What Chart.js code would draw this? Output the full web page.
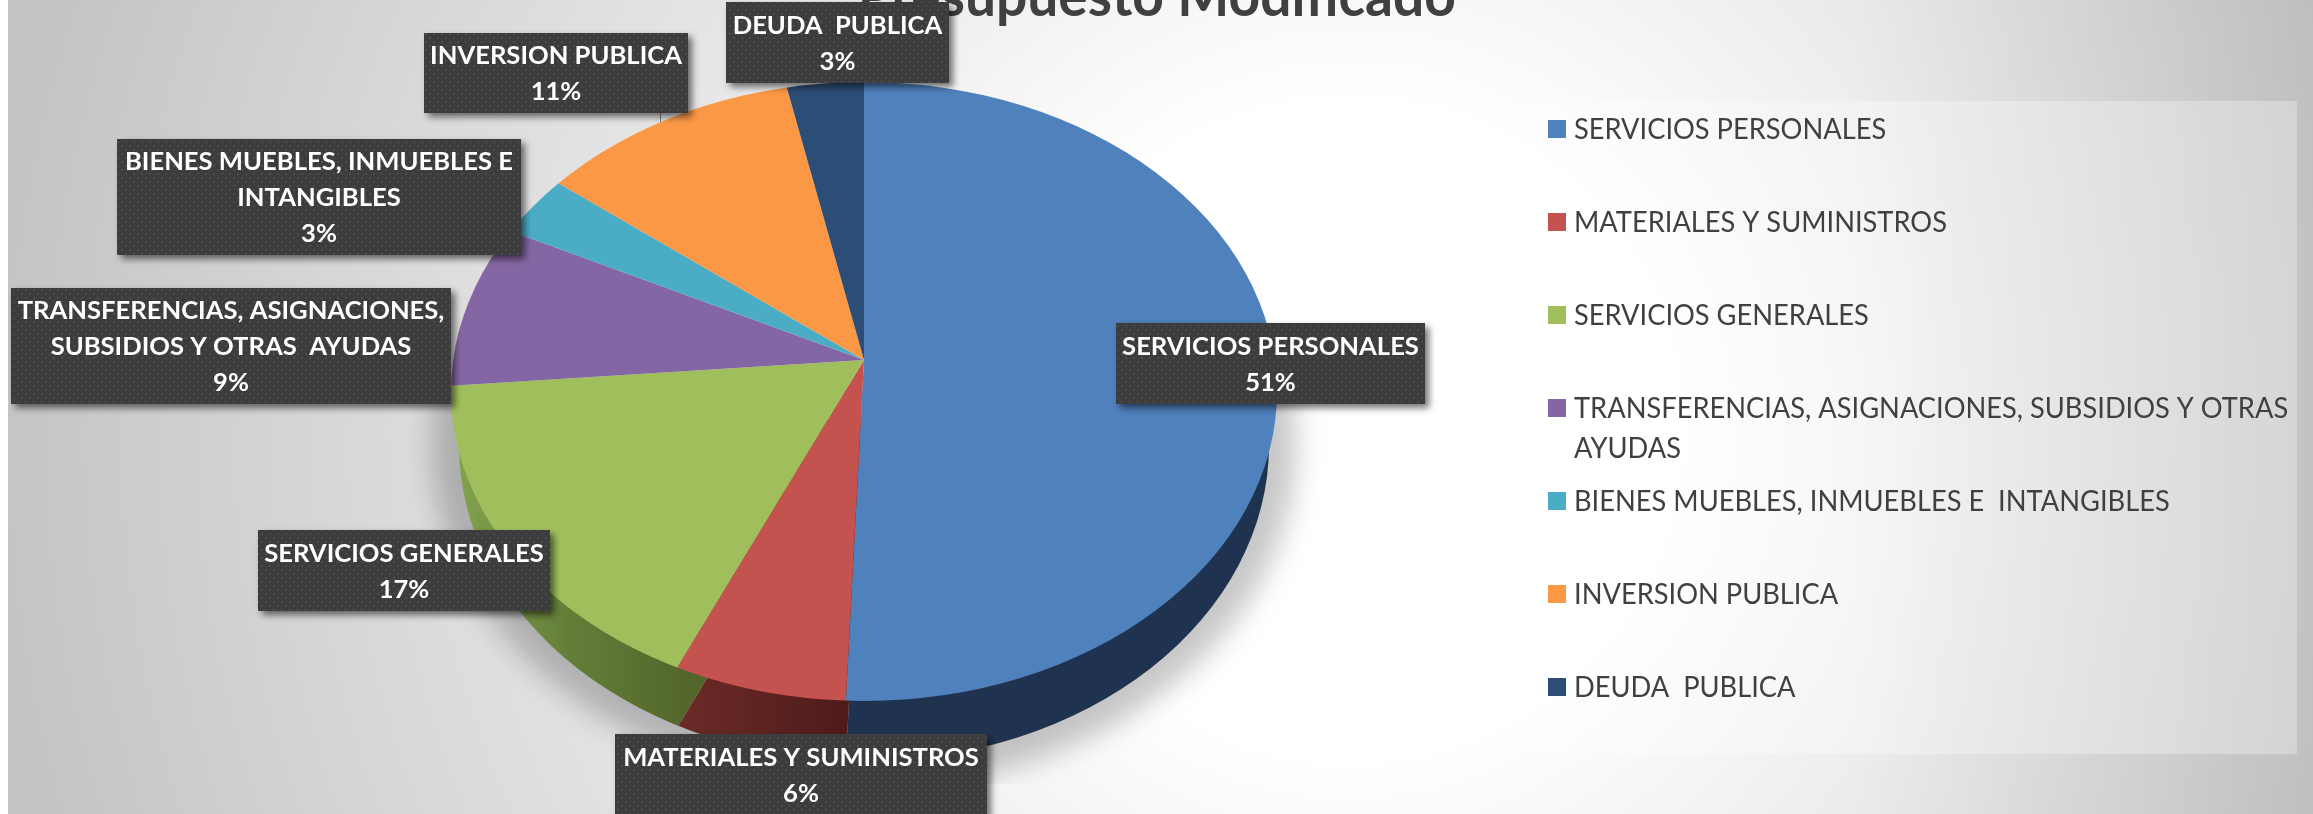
<!DOCTYPE html>
<html>
<head>
<meta charset="utf-8">
<title>Presupuesto Modificado</title>
<script src="https://cdn.jsdelivr.net/npm/chart.js@4"></script>
<style>
  html, body { margin: 0; padding: 0; background: #fff; overflow: hidden; }
  canvas { display: block; }
</style>
</head>
<body>
<canvas id="chart" width="2313" height="814"></canvas>
<script>
const chartTitle = 'Presupuesto Modificado';
const categories = [
  'SERVICIOS PERSONALES',
  'MATERIALES Y SUMINISTROS',
  'SERVICIOS GENERALES',
  'TRANSFERENCIAS, ASIGNACIONES, SUBSIDIOS Y OTRAS  AYUDAS',
  'BIENES MUEBLES, INMUEBLES E  INTANGIBLES',
  'INVERSION PUBLICA',
  'DEUDA  PUBLICA'
];
// percent of the total
const values = [50.7, 6.7, 16.4, 9.1, 3.4, 10.7, 3.0];
// percent as printed on the labels
const percentLabels = ['51%', '6%', '17%', '9%', '3%', '11%', '3%'];
const colors = ['#4F81BD', '#C4524F', '#A0BF5C', '#8566A4', '#4BACC6', '#FB9845', '#2C4D75'];
const sideColors = ['#1F3350', '#5C2321', '#647C3A', '#4A3A60', '#2B6473', '#8F5726', '#192C44'];

// how the label text wraps inside its box
const labelLines = [
  ['SERVICIOS PERSONALES'],
  ['MATERIALES Y SUMINISTROS'],
  ['SERVICIOS GENERALES'],
  ['TRANSFERENCIAS, ASIGNACIONES,', 'SUBSIDIOS Y OTRAS  AYUDAS'],
  ['BIENES MUEBLES, INMUEBLES E', 'INTANGIBLES'],
  ['INVERSION PUBLICA'],
  ['DEUDA  PUBLICA']
];
// manual label placement [left, top, right, bottom]
const labelBoxes = [
  [1116, 323, 1425, 404],
  [615, 734, 987, 815],
  [258, 530, 550, 611],
  [11, 288, 451, 404],
  [117, 139, 521, 255],
  [424, 33, 688, 113],
  [726, 2, 949, 83]
];
const legendLines = [
  ['SERVICIOS PERSONALES'],
  ['MATERIALES Y SUMINISTROS'],
  ['SERVICIOS GENERALES'],
  ['TRANSFERENCIAS, ASIGNACIONES, SUBSIDIOS Y OTRAS', 'AYUDAS'],
  ['BIENES MUEBLES, INMUEBLES E  INTANGIBLES'],
  ['INVERSION PUBLICA'],
  ['DEUDA  PUBLICA']
];

// PIE is where the slices meet. The outline is a true ellipse whose centre sits
// lower than that, which is how the perspective of the 3D original looks.
const PIE = { x: 864, y: 360, radius: 300 };
const RAY = { rx: 413, ryTop: 278, ryBottom: 341, overshoot: 1.12 };
const DISC = { cy: 391.5, rx: 413, ry: 309.5 };
const SIDE = { cy: 445, rx: 405, ry: 316, drop: 60 };

// text squeezed or stretched sideways, the original font is narrower than Lato
function wideText(ctx, text, x, y, scaleX) {
  ctx.save();
  ctx.translate(x, y);
  ctx.scale(scaleX, 1);
  ctx.fillText(text, 0, 0);
  ctx.restore();
}

// Page background: soft radial grey with a white strip at the left
const backdrop = {
  id: 'backdrop',
  beforeDraw(chart) {
    const { ctx, width, height } = chart;
    const g = ctx.createRadialGradient(1350, 430, 0, 1350, 430, 1360);
    g.addColorStop(0, '#ffffff');
    g.addColorStop(0.24, '#ffffff');
    g.addColorStop(0.47, '#ebebeb');
    g.addColorStop(0.74, '#d8d8d8');
    g.addColorStop(1, '#c4c4c4');
    ctx.save();
    ctx.fillStyle = '#ffffff';
    ctx.fillRect(0, 0, width, height);
    ctx.fillStyle = g;
    ctx.fillRect(8, 0, width - 8, height);
    const r = ctx.createLinearGradient(1850, 0, 2313, 0);
    r.addColorStop(0, 'rgba(0,0,0,0)');
    r.addColorStop(1, 'rgba(0,0,0,0.11)');
    ctx.fillStyle = r;
    ctx.fillRect(1850, 0, width - 1850, height);
    // title sits behind the labels and runs off the top edge
    ctx.fillStyle = '#404040';
    ctx.font = 'bold 58px Lato';
    ctx.textAlign = 'right';
    ctx.textBaseline = 'alphabetic';
    wideText(ctx, chartTitle, 1456, 16, 0.95);
    ctx.restore();
  }
};

// Chart.js pies are round, so squash the arcs and clip them to the tilted outline.
const tiltedPie = {
  id: 'tiltedPie',
  beforeDatasetDraw(chart) {
    const { ctx, width, height } = chart;
    const arcs = chart.getDatasetMeta(0).data;
    const cx = arcs[0].x, cy = arcs[0].y, R = arcs[0].outerRadius;
    const k = RAY.overshoot;

    const half = (top, outline, offsetY, paint) => {
      ctx.save();
      ctx.beginPath();
      if (top) ctx.rect(0, 0, width, cy + offsetY);
      else ctx.rect(0, cy + offsetY, width, height);
      ctx.clip();
      ctx.beginPath();
      ctx.ellipse(cx, outline.cy, outline.rx, outline.ry, 0, 0, Math.PI * 2);
      ctx.clip();
      ctx.translate(cx, cy + offsetY);
      ctx.scale(k * RAY.rx / R, k * (top ? RAY.ryTop : RAY.ryBottom) / R);
      ctx.translate(-cx, -cy);
      paint();
      ctx.restore();
    };

    // gradients are read through the squashing transform, so undo it on x
    const sideGradient = stops => {
      const toArc = x => cx + (x - cx) * R / (k * RAY.rx);
      const g = ctx.createLinearGradient(toArc(stops[0][0]), 0, toArc(stops[stops.length - 1][0]), 0);
      const span = stops[stops.length - 1][0] - stops[0][0];
      stops.forEach(s => g.addColorStop((s[0] - stops[0][0]) / span, s[1]));
      return g;
    };
    const sideFill = sideColors.slice();
    sideFill[1] = sideGradient([[684, '#6B2A27'], [847, '#4E1B1A']]);
    sideFill[2] = sideGradient([[465, '#80A04C'], [570, '#647E38'], [684, '#53672C']]);

    // soft shadow under the pie
    ctx.save();
    ctx.beginPath();
    ctx.rect(0, 386, width, 398);
    ctx.clip();
    ctx.filter = 'blur(14px)';
    ctx.fillStyle = 'rgba(0,0,0,0.22)';
    ctx.beginPath();
    ctx.ellipse(cx, SIDE.cy, SIDE.rx + 27, SIDE.ry + 26, 0, 0, Math.PI * 2);
    ctx.fill();
    ctx.restore();

    // side wall
    half(false, SIDE, SIDE.drop, () => {
      arcs.forEach((arc, i) => {
        const opts = arc.options;
        arc.options = { ...opts, backgroundColor: sideFill[i] };
        arc.draw(ctx);
        arc.options = opts;
      });
    });
    // top face
    half(true, DISC, 0, () => arcs.forEach(arc => arc.draw(ctx)));
    half(false, DISC, 0, () => arcs.forEach(arc => arc.draw(ctx)));
    return false;
  }
};

// Dark dotted boxes with name and percent
const dataLabels = {
  id: 'dataLabels',
  afterDatasetsDraw(chart) {
    const { ctx } = chart;
    const tile = document.createElement('canvas');
    tile.width = 8;
    tile.height = 8;
    const t = tile.getContext('2d');
    t.fillStyle = '#3C3C3E';
    t.fillRect(0, 0, 8, 8);
    t.fillStyle = '#4C4C4C';
    t.fillRect(1, 1, 2, 2);
    t.fillRect(5, 5, 2, 2);
    const pattern = ctx.createPattern(tile, 'repeat');

    // leader line of the INVERSION PUBLICA label
    ctx.save();
    ctx.strokeStyle = '#7f7f7f';
    ctx.beginPath();
    ctx.moveTo(660.5, 113);
    ctx.lineTo(660.5, 122);
    ctx.stroke();
    ctx.restore();

    labelBoxes.forEach((box, i) => {
      const [l, t2, r, b] = box;
      ctx.save();
      ctx.shadowColor = 'rgba(0,0,0,0.55)';
      ctx.shadowBlur = 7;
      ctx.shadowOffsetX = 4;
      ctx.shadowOffsetY = 4;
      ctx.fillStyle = pattern;
      ctx.fillRect(l, t2, r - l, b - t2);
      ctx.restore();

      const lines = [...labelLines[i], percentLabels[i]];
      const midY = (t2 + b) / 2 + 1.5;
      ctx.save();
      ctx.fillStyle = '#ffffff';
      ctx.font = 'bold 24.5px Lato';
      ctx.textAlign = 'center';
      ctx.textBaseline = 'middle';
      lines.forEach((line, k) => {
        wideText(ctx, line, (l + r) / 2, midY + (k - (lines.length - 1) / 2) * 36, 1.045);
      });
      ctx.restore();
    });
  }
};

// Legend panel on the right, drawn by hand because one entry wraps
const legendPanel = {
  id: 'legendPanel',
  afterDraw(chart) {
    const { ctx } = chart;
    ctx.save();
    ctx.fillStyle = 'rgba(255,255,255,0.3)';
    ctx.fillRect(1534, 101, 763, 653);
    ctx.font = '29px Lato';
    ctx.textBaseline = 'middle';
    ctx.textAlign = 'left';
    legendLines.forEach((lines, i) => {
      const y = 129 + i * 93;
      ctx.fillStyle = colors[i];
      ctx.fillRect(1548, y - 9, 18, 18);
      ctx.fillStyle = '#404040';
      lines.forEach((line, k) => wideText(ctx, line, 1574, y + 0.5 + k * 40, 0.94));
    });
    ctx.restore();
  }
};

new Chart(document.getElementById('chart'), {
  type: 'pie',
  data: {
    labels: categories,
    datasets: [{
      data: values,
      backgroundColor: colors,
      borderWidth: 0
    }]
  },
  options: {
    responsive: false,
    animation: false,
    layout: {
      padding: {
        left: PIE.x - PIE.radius,
        right: 2313 - PIE.x - PIE.radius,
        top: PIE.y - PIE.radius,
        bottom: 814 - PIE.y - PIE.radius
      }
    },
    plugins: {
      legend: { display: false },
      tooltip: { enabled: false }
    }
  },
  plugins: [backdrop, tiltedPie, dataLabels, legendPanel]
});
</script>
</body>
</html>
